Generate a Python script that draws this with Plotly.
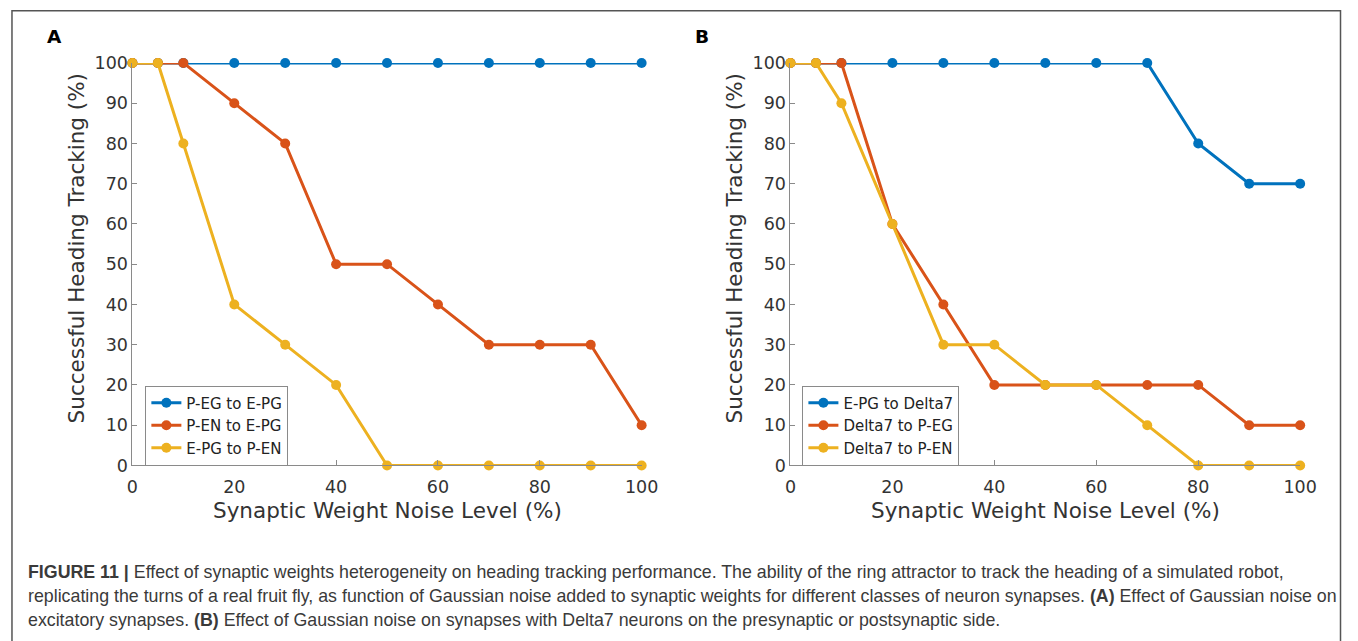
import plotly.graph_objects as go

W, H = 1358, 641

noise = [0, 5, 10, 20, 30, 40, 50, 60, 70, 80, 90, 100]

a_names = ["P-EG to E-PG", "P-EN to E-PG", "E-PG to P-EN"]
a_peg_epg = [100, 100, 100, 100, 100, 100, 100, 100, 100, 100, 100, 100]
a_pen_epg = [100, 100, 100, 90, 80, 50, 50, 40, 30, 30, 30, 10]
a_epg_pen = [100, 100, 80, 40, 30, 20, 0, 0, 0, 0, 0, 0]

b_names = ["E-PG to Delta7", "Delta7 to P-EG", "Delta7 to P-EN"]
b_epg_d7 = [100, 100, 100, 100, 100, 100, 100, 100, 100, 80, 70, 70]
b_d7_peg = [100, 100, 100, 60, 40, 20, 20, 20, 20, 20, 10, 10]
b_d7_pen = [100, 100, 90, 60, 30, 30, 20, 20, 10, 0, 0, 0]

x_ticks = [0, 20, 40, 60, 80, 100]
y_ticks = [0, 10, 20, 30, 40, 50, 60, 70, 80, 90, 100]

colors = ["#0072BD", "#D95319", "#EDB120"]

x_title = "Synaptic Weight Noise Level (%)"
y_title = "Successful Heading Tracking (%)"

caption_lines = [
    "<b>FIGURE 11 |</b> Effect of synaptic weights heterogeneity on heading tracking performance. The ability of the ring attractor to track the heading of a simulated robot,",
    "replicating the turns of a real fruit fly, as function of Gaussian noise added to synaptic weights for different classes of neuron synapses. <b>(A)</b> Effect of Gaussian noise on",
    "excitatory synapses. <b>(B)</b> Effect of Gaussian noise on synapses with Delta7 neurons on the presynaptic or postsynaptic side.",
]

FONT = "DejaVu Sans"
AXC = "#8a8a8a"
TXT = "#333333"

# map a target pixel position of the picture to paper coordinates
# (the captured page is slightly shrunk and offset, so compensate)
SX, OX = 0.9875, 2.0
SY, OY = 0.970, 11.0

def px_x(p):
    return ((p - OX) / SX) / W

def px_y(p):
    return 1 - ((p - OY) / SY) / H

fig = go.Figure()

panels = [
    ("x", "y", "legend", a_names, [a_peg_epg, a_pen_epg, a_epg_pen]),
    ("x2", "y2", "legend2", b_names, [b_epg_d7, b_d7_peg, b_d7_pen]),
]
for xa, ya, lg, names, series in panels:
    for name, vals, c in zip(names, series, colors):
        fig.add_trace(go.Scatter(
            x=noise, y=vals, name=name, mode="lines+markers",
            line=dict(color=c, width=3),
            marker=dict(color=c, size=10),
            xaxis=xa, yaxis=ya, legend=lg, cliponaxis=False,
        ))

ydom = [px_y(467), px_y(64)]
axis_common = dict(
    range=[0, 100], showgrid=False, zeroline=False, showline=True,
    linecolor=AXC, linewidth=1, ticks="inside", ticklen=5, tickcolor=AXC,
    tickfont=dict(family=FONT, size=17.5, color=TXT), mirror=False,
)

legend_common = dict(
    xanchor="left", yanchor="top", bgcolor="white", bordercolor="#8a8a8a", borderwidth=1,
    font=dict(family=FONT, size=15, color="#222222"), tracegroupgap=0,
)

fig.update_layout(
    width=W, height=H,
    margin=dict(l=0, r=0, t=0, b=0),
    paper_bgcolor="white", plot_bgcolor="white",
    xaxis=dict(domain=[px_x(129), px_x(640.5)], anchor="y", tickvals=x_ticks, ticklabelstandoff=6, **axis_common),
    yaxis=dict(domain=ydom, anchor="x", tickvals=y_ticks, **axis_common),
    xaxis2=dict(domain=[px_x(790), px_x(1302)], anchor="y2", tickvals=x_ticks, ticklabelstandoff=6, **axis_common),
    yaxis2=dict(domain=ydom, anchor="x2", tickvals=y_ticks, **axis_common),
    legend=dict(x=px_x(142), y=px_y(387), **legend_common),
    legend2=dict(x=px_x(802), y=px_y(387), **legend_common),
    showlegend=True,
)

ann = []
for x0, lab in [(51, "A"), (701, "B")]:
    ann.append(dict(x=px_x(x0), y=px_y(38), xref="paper", yref="paper", text="<b>%s</b>" % lab,
                    showarrow=False, xanchor="center", yanchor="middle",
                    font=dict(family=FONT, size=18.5, color="black")))
for xc, yc_x in [(385, 73), (1046, 734)]:
    ann.append(dict(x=px_x(xc), y=px_y(512), xref="paper", yref="paper", text=x_title,
                    showarrow=False, xanchor="center", yanchor="middle",
                    font=dict(family=FONT, size=21.5, color=TXT)))
    ann.append(dict(x=px_x(yc_x), y=px_y(250), xref="paper", yref="paper", text=y_title,
                    showarrow=False, xanchor="center", yanchor="middle", textangle=-90,
                    font=dict(family=FONT, size=21.5, color=TXT)))
for i, line in enumerate(caption_lines):
    ann.append(dict(x=px_x(22), y=px_y(574 + 24 * i), xref="paper", yref="paper", text=line,
                    showarrow=False, xanchor="left", yanchor="middle",
                    font=dict(family="Liberation Sans", size=17.8, color="#3a3a3a")))
fig.update_layout(annotations=ann)

# outer frame of the figure panel
fig.add_shape(type="rect", xref="paper", yref="paper",
              x0=px_x(8), x1=min(px_x(1353), 1357.5 / W), y0=-0.2, y1=min(px_y(8), 1 - 0.75 / H),
              line=dict(color="#555555", width=1.5), fillcolor="rgba(0,0,0,0)", layer="below")

fig.write_html("out.html", config={"displayModeBar": False},
               post_script="document.body.style.margin='0';document.body.style.overflow='hidden';")
